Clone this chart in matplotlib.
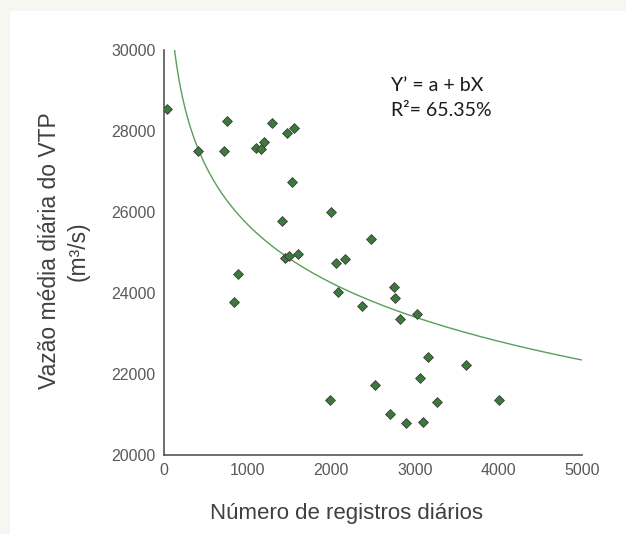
import numpy as np
import matplotlib
matplotlib.use("Agg")
import matplotlib.pyplot as plt
from matplotlib.patches import Rectangle

# Data
registros = [40, 411, 714, 754, 1097, 1157, 1200, 1292, 1471, 1551, 1527, 2001, 1411, 2476,
             1447, 1499, 1599, 885, 841, 2061, 2168, 2085, 2372, 2747, 2763, 1985, 2524,
             2699, 2820, 3030, 3161, 3608, 3058, 3269, 4010, 2894, 3101]
vazao = [28550, 27510, 27510, 28250, 27580, 27550, 27730, 28200, 27950, 28070, 26740, 26010,
         25790, 25330, 24860, 24910, 24970, 24470, 23770, 24740, 24830, 24030, 23690, 24150,
         23880, 21350, 21720, 21010, 23370, 23470, 22430, 22220, 21900, 21320, 21350, 20800, 20820]
# logarithmic trend: y = a + b*ln(x)
trend_a = 40061
trend_b = -2080
x_ticks = [0, 1000, 2000, 3000, 4000, 5000]
y_ticks = [20000, 22000, 24000, 26000, 28000, 30000]
eq_text = "Y\u2019 = a + bX"
r2_text = "R\u00b2= 65.35%"

W, H = 626, 534
fig = plt.figure(figsize=(W / 100, H / 100), dpi=100, facecolor="#f5f7f0")
fig.patches.append(Rectangle((10 / W, 0), 1, 1 - 11 / H, transform=fig.transFigure,
                             facecolor="white", edgecolor="none", zorder=-10))

ax = fig.add_axes([164 / W, 1 - 455 / H, (582 - 164) / W, (455 - 50) / H])
ax.set_facecolor("none")

xs = np.linspace(40, 5000, 400)
ax.plot(xs, trend_a + trend_b * np.log(xs), color="#5a9e5a", lw=1.0, zorder=2)
ax.scatter(registros, vazao, marker="D", s=25, facecolor="#3c7a3c", edgecolor="#3a3a3a",
           linewidths=0.6, zorder=3)

ax.set_xlim(0, 5000)
ax.set_ylim(20000, 30000)
ax.set_xticks(x_ticks)
ax.set_yticks(y_ticks)
ax.tick_params(length=0, labelsize=11.5, labelcolor="#595959", pad=6)
for lab in ax.get_xticklabels() + ax.get_yticklabels():
    lab.set_family("Liberation Sans")
for s in ["top", "right"]:
    ax.spines[s].set_visible(False)
for s in ["left", "bottom"]:
    ax.spines[s].set_color("#555555")
    ax.spines[s].set_linewidth(1.2)

fig.text(346 / W, 1 - 513 / H, "Número de registros diários", ha="center", va="center",
         fontsize=16, family="Liberation Sans", color="#404040")
fig.text(64 / W, 1 - 251 / H, "Vazão média diária do VTP\n(m³/s)", ha="center", va="center",
         rotation=90, fontsize=16.5, family="Liberation Sans", color="#404040", linespacing=1.3)

fig.text(391 / W, 1 - 85 / H, eq_text, ha="left", va="center", fontsize=14,
         family="Lato", color="#1a1a1a")
fig.text(391 / W, 1 - 110 / H, r2_text, ha="left", va="center", fontsize=14,
         family="Lato", color="#1a1a1a")

fig.savefig("out.png", dpi=100, facecolor=fig.get_facecolor())
